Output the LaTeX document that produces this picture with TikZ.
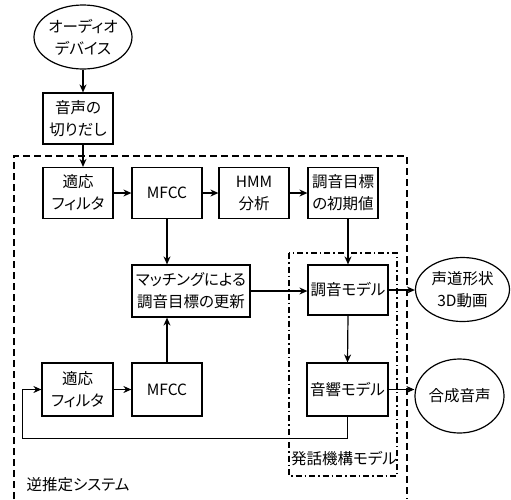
\documentclass[tikz,border=0pt]{standalone}
\usepackage{fontspec}
\newfontfamily\jp[RawFeature=+palt]{Noto Sans CJK JP}
\usetikzlibrary{arrows.meta,shapes.geometric}
\begin{document}
\begin{tikzpicture}[x=1pt,y=-1pt,
  txt/.style={font=\jp\fontsize{15.5}{22}\selectfont},
  box/.style={txt, draw, line width=1.2pt, minimum width=70pt, minimum height=51pt, inner sep=0pt, align=center},
  ell/.style={txt, ellipse, draw, line width=1.2pt, inner sep=0pt, align=center},
  arr/.style={-{Stealth[length=8pt,width=7pt]}, line width=1.2pt},
  outer/.style={line width=1.4pt, dash pattern=on 7pt off 4pt},
  dd/.style={line width=1.2pt, dash pattern=on 6pt off 3pt on 1.5pt off 3pt}]
\useasboundingbox (0,0) rectangle (511,499);

% frames
\draw[outer] (14,499) -- (14,156) -- (407,156) -- (407,499);
\draw[dd] (289,253) rectangle (397,476);
\node[txt, anchor=west] (sys) at (23,485) {逆推定システム};
\node[txt] (mech) at (344,459) {発話機構モデル};

% nodes
\node[ell, minimum width=98pt, minimum height=64pt] (aud) at (83,37) {オーディオ\\デバイス};
\node[box, minimum height=51pt] (kiri) at (78,118.5) {音声の\\切りだし};
\node[box] (tek1) at (78,193) {適応\\フィルタ};
\node[box] (mfcc1) at (167,193) {MFCC};
\node[box] (hmm) at (254,193) {HMM\\分析};
\node[box] (init) at (343,193) {調音目標\\の初期値};
\node[box, minimum width=118pt, minimum height=52pt] (match) at (191,291) {マッチングによる\\調音目標の更新};
\node[box, minimum width=80pt, minimum height=50pt] (chouon) at (348,290) {調音モデル};
\node[ell, minimum width=94pt, minimum height=64pt] (voice) at (462.5,289.5) {声道形状\\3D動画};
\node[box, minimum width=71pt, minimum height=53pt] (tek2) at (77.5,389.5) {適応\\フィルタ};
\node[box, minimum height=53pt] (mfcc2) at (167,389.5) {MFCC};
\node[box, minimum width=81pt, minimum height=53pt] (onkyo) at (347.5,389.5) {音響モデル};
\node[ell, minimum width=89pt, minimum height=74pt] (synth) at (459.5,396) {合成音声};

% connectors
\draw[arr] (aud.south) -- (aud.south |- kiri.north);
\draw[arr] (kiri.south -| aud.south) -- (tek1.north -| aud.south);
\draw[arr] (tek1.east) -- (mfcc1.west);
\draw[arr] (mfcc1.east) -- (hmm.west);
\draw[arr] (hmm.east) -- (init.west);
\draw[arr] (init.south -| chouon.north) -- (chouon.north);
\draw[arr] (mfcc1.south) -- (mfcc1.south |- match.north);
\draw[arr] (match.east) -- (match.east -| chouon.west);
\draw[arr] (chouon.east) -- (chouon.east -| voice.west);
\draw[arr] (chouon.south) -- (onkyo.north);
\draw[arr] (onkyo.east) -- (onkyo.east -| synth.west);
\draw[arr] (tek2.east) -- (mfcc2.west);
\draw[arr] (mfcc2.north) -- (mfcc2.north |- match.south);
\draw[arr] (onkyo.south) -- ++(0,22) -| ([xshift=-19pt]tek2.west) -- (tek2.west);
\end{tikzpicture}
\end{document}
